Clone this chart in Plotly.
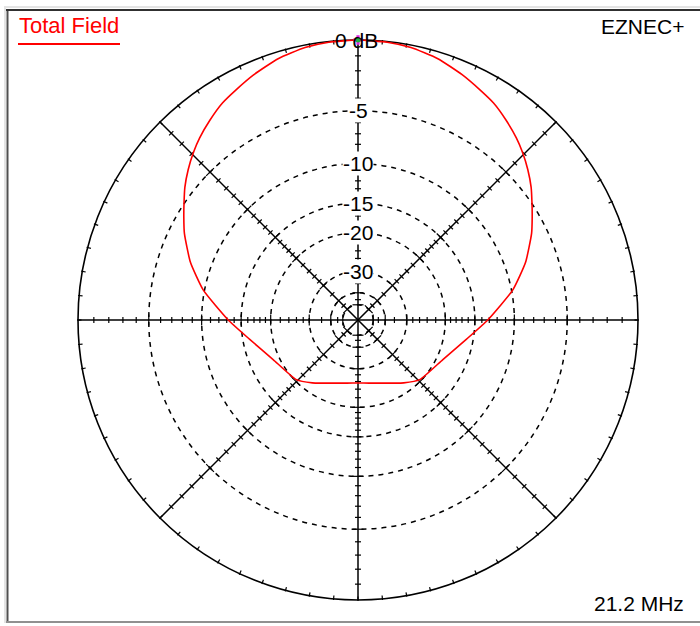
import numpy as np
import plotly.graph_objects as go

# ---------------- data ----------------
# bearing of the pattern point (degrees, clockwise from top) and field in dB
pattern_angle_deg = [0, 6, 11, 17, 23, 28, 32, 36.5, 41, 44.5, 48.5, 52.5, 56, 59.5, 63.5,
                     71, 79, 90, 100, 115, 134, 144, 150, 160, 170, 180,
                     190, 200, 210, 216, 226, 245, 260, 270, 281, 289, 296.5, 300.5,
                     304, 307.5, 311.5, 315.5, 319, 323.5, 328, 332, 337, 343, 349,
                     354, 360]
pattern_db = [0.0, -0.04, -0.15, -0.42, -0.85, -1.25, -1.55, -2.03, -2.55, -3.02, -3.62,
              -4.28, -4.95, -5.59, -6.30, -7.85, -9.85, -13.2, -16.0, -18.8, -20.3,
              -22.0, -23.1, -24.5, -25.3, -25.6,
              -25.3, -24.5, -23.1, -22.0, -20.3, -18.8, -16.0, -13.2, -9.85, -7.85,
              -6.30, -5.59, -4.95, -4.28, -3.62, -3.02, -2.55, -2.03, -1.55, -1.25,
              -0.85, -0.42, -0.15, -0.04, 0.0]

ring_db = [-5, -10, -15, -20, -30, -40, -50]
ring_labels = ["-5", "-10", "-15", "-20", "-30"]
label_db = [-5, -10, -15, -20, -30]
spoke_tick_db = list(range(-1, -21, -1)) + [-22, -24, -26, -28, -30, -35, -40, -45, -50]
spoke_angles = [0, 45, 90, 135, 180, 225, 270, 315]
outer_tick_step = 5

title_text = "Total Field"
brand_text = "EZNEC+"
freq_text = "21.2 MHz"
top_label = "0 dB"

# ---------------- geometry / style ----------------
W, H = 700, 626
CX, CY, R = 358, 320, 280
FONT = "Liberation Sans, Arial, sans-serif"


def rad(db):
    # ARRL log scale: each 2 dB shrinks the radius by 0.89
    return 0.89 ** (-np.asarray(db, dtype=float) / 2.0)


def px_x(p):
    return p / W


def px_y(p):
    return 1 - p / H


fig = go.Figure()

# ticks along spokes
tx, ty = [], []
for a in spoke_angles:
    ar = np.radians(a)
    ux, uy = np.sin(ar), np.cos(ar)
    nx, ny = np.cos(ar), -np.sin(ar)
    for d in spoke_tick_db:
        r = float(rad(d))
        L = (5.5 if d in ring_db else 3.0) / R
        px, py = r * ux, r * uy
        tx += [px - nx * L, px + nx * L, None]
        ty += [py - ny * L, py + ny * L, None]
# ticks on the outer circle
for a in np.arange(0, 360, outer_tick_step):
    ar = np.radians(a)
    ux, uy = np.sin(ar), np.cos(ar)
    tx += [ux * (1 - 3.5 / R), ux * (1 + 1.0 / R), None]
    ty += [uy * (1 - 3.5 / R), uy * (1 + 1.0 / R), None]
fig.add_trace(go.Scatter(x=tx, y=ty, mode="lines",
                         line=dict(color="black", width=1.2),
                         hoverinfo="skip"))

# pattern
th = np.radians(pattern_angle_deg)
rr = rad(pattern_db)
fig.add_trace(go.Scatter(x=rr * np.sin(th), y=rr * np.cos(th), mode="lines",
                         line=dict(color="#ff0000", width=1.6, shape="spline",
                                   smoothing=0.5),
                         hoverinfo="skip"))

# cursor marker at the maximum
imax = int(np.argmax(pattern_db))
rm = float(rad(pattern_db[imax]))
tm = np.radians(pattern_angle_deg[imax])
fig.add_trace(go.Scatter(x=[rm * np.sin(tm)], y=[rm * np.cos(tm)], mode="markers",
                         marker=dict(symbol="cross", size=8, color="#e020e0"),
                         hoverinfo="skip"))
fig.add_trace(go.Scatter(x=[rm * np.sin(tm)], y=[rm * np.cos(tm)], mode="markers",
                         marker=dict(symbol="circle", size=5, color="#20b040"),
                         hoverinfo="skip"))

shapes = []
# rings
for d in ring_db:
    r = float(rad(d))
    shapes.append(dict(type="circle", xref="x", yref="y", x0=-r, y0=-r, x1=r, y1=r,
                       line=dict(color="black", width=1.5, dash="5px,5px"),
                       layer="below"))
shapes.append(dict(type="circle", xref="x", yref="y", x0=-1, y0=-1, x1=1, y1=1,
                   line=dict(color="black", width=1.6), layer="below"))
# spokes
for a in [0, 45, 90, 135]:
    ar = np.radians(a)
    shapes.append(dict(type="line", xref="x", yref="y",
                       x0=-np.sin(ar), y0=-np.cos(ar), x1=np.sin(ar), y1=np.cos(ar),
                       line=dict(color="black", width=1.5), layer="below"))
# frame
shapes.append(dict(type="line", xref="paper", yref="paper", x0=px_x(7.5), x1=px_x(7.5),
                   y0=px_y(9), y1=px_y(623), line=dict(color="#505050", width=2)))
shapes.append(dict(type="line", xref="paper", yref="paper", x0=px_x(5), x1=px_x(5),
                   y0=px_y(6), y1=px_y(623), line=dict(color="#c8c8c8", width=1)))
shapes.append(dict(type="line", xref="paper", yref="paper", x0=px_x(6), x1=px_x(700),
                   y0=px_y(10), y1=px_y(10), line=dict(color="#303030", width=2)))
shapes.append(dict(type="line", xref="paper", yref="paper", x0=px_x(6), x1=px_x(700),
                   y0=px_y(7), y1=px_y(7), line=dict(color="#c8c8c8", width=1)))
shapes.append(dict(type="line", xref="paper", yref="paper", x0=px_x(6), x1=px_x(700),
                   y0=px_y(622), y1=px_y(622), line=dict(color="#909090", width=2)))
# title underline
shapes.append(dict(type="line", xref="paper", yref="paper", x0=px_x(18), x1=px_x(120),
                   y0=px_y(44), y1=px_y(44), line=dict(color="#ff0000", width=2)))

annotations = []
for lab, d in zip(ring_labels, label_db):
    annotations.append(dict(x=0, y=float(rad(d)), xref="x", yref="y", text=lab,
                            showarrow=False, xanchor="center", yanchor="middle",
                            font=dict(family=FONT, size=21, color="black"),
                            bgcolor="white", borderpad=0))
annotations.append(dict(x=-0.005, y=1.0, xref="x", yref="y", text=top_label,
                        showarrow=False, xanchor="center", yanchor="middle",
                        font=dict(family=FONT, size=21, color="black"), borderpad=0))
annotations.append(dict(x=px_x(17), y=px_y(26), xref="paper", yref="paper",
                        text=title_text, showarrow=False, xanchor="left", yanchor="middle",
                        font=dict(family=FONT, size=22, color="#ff0000")))
annotations.append(dict(x=px_x(686), y=px_y(27), xref="paper", yref="paper",
                        text=brand_text, showarrow=False, xanchor="right", yanchor="middle",
                        font=dict(family=FONT, size=21, color="black")))
annotations.append(dict(x=px_x(686), y=px_y(603), xref="paper", yref="paper",
                        text=freq_text, showarrow=False, xanchor="right", yanchor="middle",
                        font=dict(family=FONT, size=21, color="black")))

fig.update_layout(
    width=W, height=H,
    margin=dict(l=0, r=0, t=0, b=0),
    paper_bgcolor="white", plot_bgcolor="white",
    showlegend=False,
    xaxis=dict(range=[(0 - CX) / R, (W - CX) / R], visible=False, fixedrange=True),
    yaxis=dict(range=[(CY - H) / R, CY / R], visible=False, fixedrange=True),
    shapes=shapes,
    annotations=annotations,
)

fig.write_html("out.html", config={"displayModeBar": False},
               post_script="document.body.style.margin='0px';")
